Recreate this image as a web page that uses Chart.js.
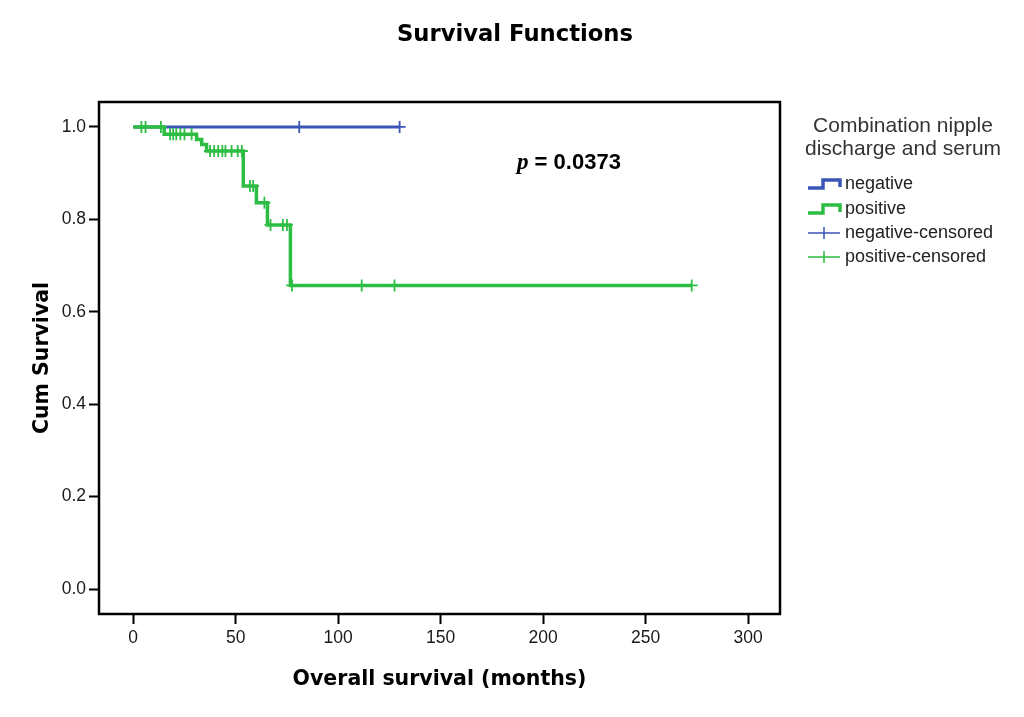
<!DOCTYPE html>
<html lang="en">
<head>
  <meta charset="UTF-8" />
  <title>Survival Functions</title>
  <script src="https://cdn.jsdelivr.net/npm/chart.js@4.4.0/dist/chart.umd.min.js"></script>
  <style>
    html, body { margin: 0; padding: 0; background: #fff; }
    #kmChart { display: block; }
  </style>
</head>
<body>
  <canvas id="kmChart" width="1024" height="717"></canvas>

  <script>
    // Kaplan-Meier steps (months / cum survival)
    const negTimes = [0, 130];
    const negSurv = [1, 1];
    const posTimes = [0, 15.1, 30.9, 33.4, 35.8, 53.7, 60.1, 65.5, 76.7, 272.5];
    const posSurv = [1, 0.984, 0.973, 0.962, 0.948, 0.872, 0.836, 0.788, 0.657, 0.657];

    // censored cases
    const negCensored = [81, 130];
    const posCensored = [4, 6, 13.5, 18, 19.5, 21, 23, 25, 28.5, 37.5, 39.5, 41.5, 43.5, 45,
                         48, 51, 53, 57, 58.5, 64, 67, 73, 75, 77.5, 111.5, 127.5, 272.5];

    const xTicks = [0, 50, 100, 150, 200, 250, 300];
    const yTicks = [0, 0.2, 0.4, 0.6, 0.8, 1.0];

    const chartTitle = 'Survival Functions';
    const legendTitle = ['Combination nipple', 'discharge and serum'];
    const groupLabels = ['negative', 'positive'];
    const pValue = '0.0373';

    const BLUE = '#3a55b5';
    const GREEN = '#2dbd43';

    // survival value of a step curve at time t
    function survAt(times, surv, t) {
      let s = surv[0];
      for (let i = 0; i < times.length; i++) {
        if (times[i] <= t) s = surv[i];
      }
      return s;
    }

    const toPoints = (times, surv) => times.map((t, i) => ({ x: t, y: surv[i] }));
    const censPoints = (cens, times, surv) => cens.map(t => ({ x: t, y: survAt(times, surv, t) }));

    const framePlugin = {
      id: 'frame',
      afterDatasetsDraw(chart) {
        const { ctx, chartArea: a } = chart;
        ctx.save();
        ctx.strokeStyle = '#000';
        ctx.lineWidth = 2.5;
        ctx.strokeRect(a.left, a.top, a.right - a.left, a.bottom - a.top);
        ctx.restore();
      }
    };

    // title centred on the whole picture, not on the plot box
    const titlePlugin = {
      id: 'pageTitle',
      afterDraw(chart) {
        const ctx = chart.ctx;
        ctx.save();
        ctx.fillStyle = '#000';
        ctx.textAlign = 'center';
        ctx.textBaseline = 'middle';
        ctx.font = 'bold 22.7px "DejaVu Sans"';
        ctx.fillText(chartTitle, 515, 35);
        ctx.restore();
      }
    };

    const pValuePlugin = {
      id: 'pvalue',
      afterDraw(chart) {
        const ctx = chart.ctx;
        ctx.save();
        ctx.fillStyle = '#000';
        ctx.textBaseline = 'middle';
        ctx.font = 'italic bold 23px "Liberation Serif"';
        ctx.fillText('p', 517, 163);
        const w = ctx.measureText('p').width;
        ctx.font = 'bold 22px "Liberation Sans"';
        ctx.fillText(' = ' + pValue, 517 + w, 163);
        ctx.restore();
      }
    };

    // SPSS-like legend on the right
    const legendPlugin = {
      id: 'spssLegend',
      afterDraw(chart) {
        const ctx = chart.ctx;
        ctx.save();
        ctx.fillStyle = '#333';
        ctx.textAlign = 'center';
        ctx.textBaseline = 'middle';
        ctx.font = '21px "Liberation Sans"';
        legendTitle.forEach((t, i) => ctx.fillText(t, 903, 126 + i * 23));

        const colors = [BLUE, GREEN];
        const rows = [184, 209, 233, 257];
        ctx.textAlign = 'left';
        ctx.font = '18px "Liberation Sans"';
        ctx.fillStyle = '#222';

        colors.forEach((c, i) => {
          const y = rows[i];
          ctx.strokeStyle = c;
          ctx.lineWidth = 3.5;
          ctx.beginPath();
          ctx.moveTo(808, y + 4);
          ctx.lineTo(823, y + 4);
          ctx.lineTo(823, y - 4);
          ctx.lineTo(840, y - 4);
          ctx.lineTo(840, y + 3);
          ctx.stroke();
          ctx.fillText(groupLabels[i], 845, y);
        });
        colors.forEach((c, i) => {
          const y = rows[i + 2];
          ctx.strokeStyle = c;
          ctx.lineWidth = 1.5;
          ctx.beginPath();
          ctx.moveTo(808, y);
          ctx.lineTo(840, y);
          ctx.moveTo(824, y - 6);
          ctx.lineTo(824, y + 6);
          ctx.stroke();
          ctx.fillText(groupLabels[i] + '-censored', 845, y);
        });
        ctx.restore();
      }
    };

    const tickFont = { family: '"Liberation Sans", Arial', size: 17.5 };
    const titleFont = { family: '"DejaVu Sans"', size: 20.5, weight: 'bold' };
    const tickGrid = {
      display: true,
      drawOnChartArea: false,
      drawTicks: true,
      tickLength: 10,
      tickWidth: 2,
      tickColor: '#000'
    };

    new Chart(document.getElementById('kmChart'), {
      type: 'line',
      data: {
        datasets: [
          {
            type: 'scatter',
            label: 'positive-censored',
            data: censPoints(posCensored, posTimes, posSurv),
            pointStyle: 'cross',
            pointRadius: 6,
            pointBorderWidth: 1.8,
            borderColor: GREEN,
            backgroundColor: GREEN,
            showLine: false
          },
          {
            label: 'positive',
            data: toPoints(posTimes, posSurv),
            stepped: true,
            borderColor: GREEN,
            borderWidth: 3.5,
            pointRadius: 0,
            fill: false
          },
          {
            type: 'scatter',
            label: 'negative-censored',
            data: censPoints(negCensored, negTimes, negSurv),
            pointStyle: 'cross',
            pointRadius: 6,
            pointBorderWidth: 1.8,
            borderColor: BLUE,
            backgroundColor: BLUE,
            showLine: false
          },
          {
            label: 'negative',
            data: toPoints(negTimes, negSurv),
            stepped: true,
            borderColor: BLUE,
            borderWidth: 3,
            pointRadius: 0,
            fill: false
          }
        ]
      },
      options: {
        responsive: false,
        animation: false,
        events: [],
        layout: { padding: { left: 0, right: 244, top: 102, bottom: 0 } },
        plugins: {
          legend: { display: false },
          tooltip: { enabled: false },
          title: { display: false }
        },
        scales: {
          x: {
            type: 'linear',
            min: -16.7,
            max: 315.6,
            afterBuildTicks: s => { s.ticks = xTicks.map(v => ({ value: v })); },
            afterFit: s => { s.height = 103; },
            grid: tickGrid,
            border: { display: false },
            ticks: { font: tickFont, color: '#1a1a1a', padding: 4, maxRotation: 0 },
            title: {
              display: true,
              text: 'Overall survival (months)',
              color: '#000',
              font: titleFont,
              padding: { top: 0, bottom: 25 }
            }
          },
          y: {
            type: 'linear',
            min: -0.054,
            max: 1.054,
            afterBuildTicks: s => { s.ticks = yTicks.map(v => ({ value: v })); },
            afterFit: s => { s.width = 99; },
            grid: tickGrid,
            border: { display: false },
            ticks: { font: tickFont, color: '#1a1a1a', padding: 3, callback: v => v.toFixed(1) },
            title: {
              display: true,
              text: 'Cum Survival',
              color: '#000',
              font: titleFont,
              padding: { top: 30, bottom: 0 }
            }
          }
        }
      },
      plugins: [framePlugin, titlePlugin, pValuePlugin, legendPlugin]
    });
  </script>
</body>
</html>
